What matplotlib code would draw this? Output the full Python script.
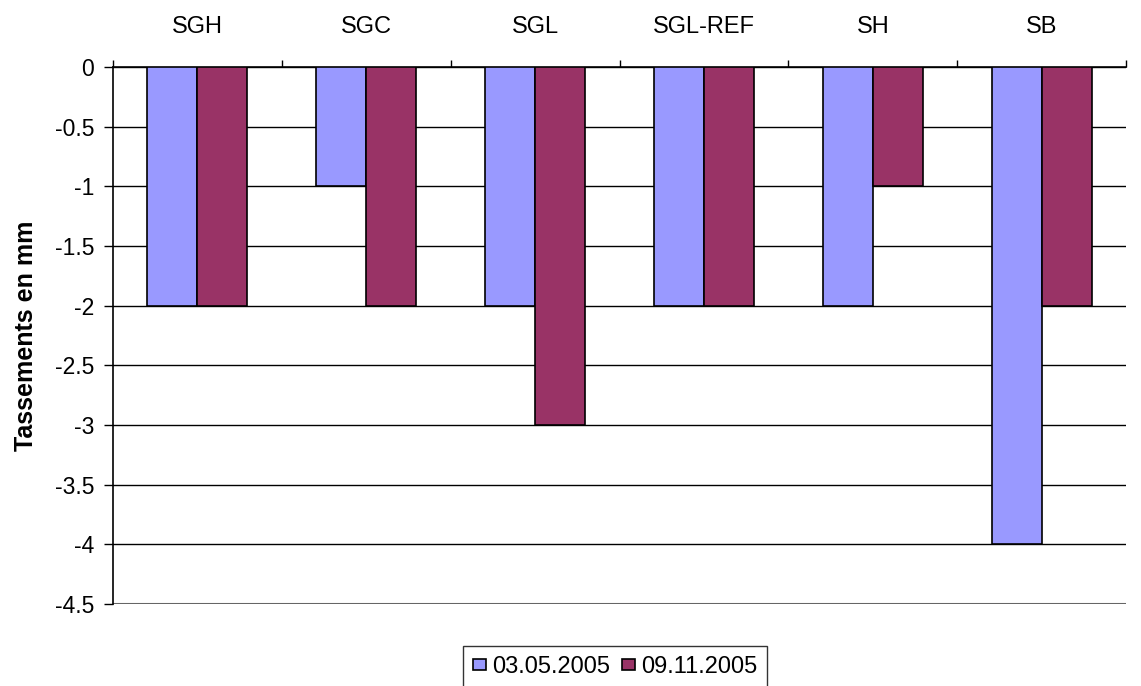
import numpy as np
import matplotlib.pyplot as plt

plt.rcParams['font.family'] = ['Liberation Sans', 'DejaVu Sans']

categories = ['SGH', 'SGC', 'SGL', 'SGL-REF', 'SH', 'SB']
serie_mai = [-2, -1, -2, -2, -2, -4]
serie_nov = [-2, -2, -3, -2, -1, -2]
labels = ['03.05.2005', '09.11.2005']

fig = plt.figure(figsize=(11.41, 6.86), dpi=100)
ax = fig.add_axes([0.099, 0.1195, 0.888, 0.7828])

x = np.arange(len(categories))
w = 0.296
ax.bar(x - w / 2, serie_mai, w, color='#9999ff', edgecolor='black', linewidth=1.2, label=labels[0], zorder=3)
ax.bar(x + w / 2, serie_nov, w, color='#993366', edgecolor='black', linewidth=1.2, label=labels[1], zorder=3)

ax.set_xlim(-0.5, len(categories) - 0.5)
ax.set_ylim(-4.5, 0)
yt = np.arange(-4.5, 0.01, 0.5)
ax.set_yticks(yt)
ax.set_yticklabels([('%g' % v) for v in yt], fontsize=16.5)
ax.yaxis.grid(True, color='black', linewidth=1, zorder=0)
ax.tick_params(axis='y', length=6.5, width=1, pad=7)

ax.xaxis.tick_top()
ax.set_xticks(x)
ax.set_xticklabels(categories, fontsize=17)
ax.set_xticks(np.arange(-0.5, len(categories), 1), minor=True)
ax.tick_params(axis='x', which='major', length=0, pad=21)
ax.tick_params(axis='x', which='minor', length=5, width=1, top=True)

for s in ['right', 'bottom']:
    ax.spines[s].set_visible(False)
ax.spines['top'].set_linewidth(1.2)
ax.spines['left'].set_linewidth(1.2)
ax.axhline(-4.5, color='gray', linewidth=1.5, zorder=1)

ax.set_ylabel('Tassements en mm', fontsize=18, fontweight='bold', labelpad=12)

leg = fig.legend(loc='upper center', bbox_to_anchor=(615 / 1141, 1 - 646 / 686), ncol=2, fontsize=17,
                 frameon=True, fancybox=False, edgecolor='black', handlelength=0.55,
                 handleheight=0.4, handletextpad=0.25, columnspacing=0.5, borderpad=0.42,
                 borderaxespad=0)
leg.get_frame().set_linewidth(1)

fig.savefig('out.png', dpi=100)
